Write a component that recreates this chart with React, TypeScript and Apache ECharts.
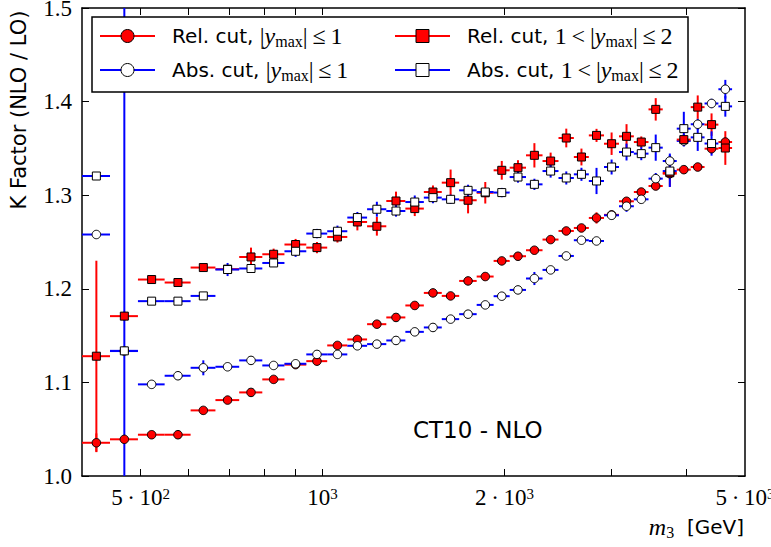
import React, { useEffect, useRef } from "react";
import * as echarts from "echarts";

// ---- data -------------------------------------------------------------
// bin edges of m3 [GeV]
const binEdges = [
  400, 445, 495, 548, 605, 665, 728, 795, 865, 940, 1018, 1099, 1185, 1275,
  1371, 1471, 1575, 1683, 1799, 1919, 2040, 2171, 2312, 2457, 2605, 2758,
  2922, 3094, 3274, 3462, 3655, 3855, 4066, 4286, 4518, 4760,
];

// Rel. cut, |y_max| <= 1  (red circles)
const relInner = [
  1.0355, 1.0392, 1.0441, 1.0441, 1.0701, 1.0811, 1.0893, 1.1032, 1.119,
  1.1227, 1.1395, 1.1459, 1.1622, 1.1694, 1.1822, 1.1956, 1.1924, 1.2084,
  1.2131, 1.2298, 1.2348, 1.2412, 1.2526, 1.2618, 1.265, 1.2757, 1.279,
  1.2935, 1.3034, 1.3098, 1.323, 1.3273, 1.3301, 1.3497, 1.3568,
];
const relInnerErr = [
  0.01, 0.004, 0.003, 0.003, 0.003, 0.003, 0.003, 0.003, 0.003, 0.003, 0.003,
  0.003, 0.003, 0.003, 0.003, 0.003, 0.003, 0.003, 0.003, 0.003, 0.003, 0.003,
  0.003, 0.004, 0.003, 0.006, 0.004, 0.004, 0.004, 0.004, 0.004, 0.004, 0.004,
  0.005, 0.005,
];

// Abs. cut, |y_max| <= 1  (open circles)
const absInner = [
  1.258, 1.1335, 1.0979, 1.1071, 1.1156, 1.1167, 1.1235, 1.1181, 1.1199,
  1.1299, 1.1299, 1.1391, 1.1409, 1.1448, 1.154, 1.1587, 1.1676, 1.1729,
  1.1828, 1.1921, 1.1988, 1.211, 1.2202, 1.2351, 1.2519, 1.2511, 1.2785,
  1.2882, 1.2956, 1.3177, 1.3365, 1.358, 1.3758, 1.398, 1.4132,
];
const absInnerErr = [
  0.004, 0.003, 0.003, 0.003, 0.008, 0.003, 0.003, 0.003, 0.003, 0.003, 0.003,
  0.003, 0.003, 0.003, 0.003, 0.003, 0.003, 0.003, 0.003, 0.003, 0.003, 0.007,
  0.003, 0.004, 0.003, 0.003, 0.004, 0.006, 0.004, 0.006, 0.008, 0.006, 0.006,
  0.005, 0.01,
];

// Rel. cut, 1 < |y_max| <= 2  (red squares)
const relOuter = [
  1.128, 1.1708, 1.2099, 1.2067, 1.2227, 1.221, 1.234, 1.2369, 1.2473, 1.244,
  1.2554, 1.2714, 1.2668, 1.2938, 1.2857, 1.3034, 1.3134, 1.2946, 1.3026,
  1.3266, 1.3294, 1.3426, 1.3365, 1.3611, 1.3408, 1.3639, 1.355, 1.3629,
  1.3568, 1.3917, 1.324, 1.3594, 1.3941, 1.3754, 1.3504,
];
const relOuterErr = [
  0.102, 0.005, 0.004, 0.004, 0.004, 0.004, 0.01, 0.006, 0.006, 0.006, 0.006,
  0.009, 0.01, 0.01, 0.008, 0.007, 0.014, 0.014, 0.0115, 0.01, 0.008, 0.013,
  0.009, 0.01, 0.009, 0.007, 0.012, 0.013, 0.006, 0.012, 0.015, 0.006, 0.0125,
  0.012, 0.018,
];

// Abs. cut, 1 < |y_max| <= 2  (open squares)
const absOuter = [
  1.3205, 1.1337, 1.1868, 1.1868, 1.1924, 1.2206, 1.2217, 1.2276, 1.2401,
  1.259, 1.2615, 1.2761, 1.285, 1.2831, 1.2927, 1.2974, 1.2956, 1.3052,
  1.3034, 1.3028, 1.3194, 1.3116, 1.3258, 1.3184, 1.3223, 1.3152, 1.3301,
  1.3461, 1.3444, 1.3508, 1.3258, 1.3711, 1.3618, 1.3552, 1.3949,
];
const absOuterErr = [
  0.004, 0.5, 0.003, 0.003, 0.003, 0.007, 0.004, 0.004, 0.006, 0.005, 0.006,
  0.006, 0.008, 0.006, 0.007, 0.006, 0.005, 0.006, 0.004, 0.005, 0.006, 0.006,
  0.007, 0.007, 0.007, 0.014, 0.008, 0.009, 0.007, 0.014, 0.017, 0.018,
  0.0145, 0.013, 0.011,
];

// axis ticks
const xMin = 400;
const xMax = 5000;
const xTickValues = [500, 600, 700, 800, 900, 1000, 2000, 3000, 4000];
const xLabelValues = [500, 1000, 2000, 5000];
const xLabelMantissas = ["5\u2009·\u200910", "10", "2\u2009·\u200910", "5\u2009·\u200910"];
const xLabelExponents = ["2", "3", "3", "3"];
const yMin = 1.0;
const yMax = 1.5;
const yStep = 0.1;

const legendEntries = [
  { pre: "Rel. cut, ", lead: "", post: "1", color: "#ff0000", fill: "#ff0000", symbol: "circle" },
  { pre: "Abs. cut, ", lead: "", post: "1", color: "#0000ff", fill: "#ffffff", symbol: "circle" },
  { pre: "Rel. cut, ", lead: "1", post: "2", color: "#ff0000", fill: "#ff0000", symbol: "rect" },
  { pre: "Abs. cut, ", lead: "1", post: "2", color: "#0000ff", fill: "#ffffff", symbol: "rect" },
];

// ---- helpers ----------------------------------------------------------
function buildRows(vals: number[], errs: number[]) {
  return vals.map((v, i) => {
    const lo = binEdges[i];
    const hi = binEdges[i + 1];
    return [(lo + hi) / 2, v, lo, hi, errs[i]];
  });
}

function barRenderer(color: string) {
  return (params: any, api: any) => {
    const x = api.value(0);
    const y = api.value(1);
    const lo = api.value(2);
    const hi = api.value(3);
    const e = api.value(4);
    const a = api.coord([lo, y]);
    const b = api.coord([hi, y]);
    const t = api.coord([x, Math.min(y + e, yMax)]);
    const u = api.coord([x, Math.max(y - e, yMin)]);
    return {
      type: "group",
      children: [
        { type: "line", shape: { x1: a[0], y1: a[1], x2: b[0], y2: b[1] }, style: { stroke: color, lineWidth: 2 } },
        { type: "line", shape: { x1: t[0], y1: t[1], x2: u[0], y2: u[1] }, style: { stroke: color, lineWidth: 2 } },
      ],
    };
  };
}

const mathRich = {
  a: { fontFamily: "DejaVu Sans", fontSize: 20, color: "#000" },
  m: { fontFamily: "Liberation Serif", fontSize: 24, color: "#000" },
  i: { fontFamily: "Liberation Serif", fontStyle: "italic", fontSize: 24, color: "#000" },
  s: { fontFamily: "Liberation Serif", fontSize: 16, color: "#000", verticalAlign: "bottom", padding: [10, 0, 0, 0] },
};

function legendText(e: any) {
  const lead = e.lead ? `{m|${e.lead}\u2009<\u2009}` : "";
  return `{a|${e.pre}}${lead}{m||}{i|y}{s|max}{m||\u2009≤\u2009${e.post}}`;
}

export default function App() {
  const ref = useRef<HTMLDivElement>(null);

  useEffect(() => {
    document.body.style.margin = "0";
    const chart = echarts.init(ref.current!, null, { renderer: "svg" });

    const sets = [
      { rows: buildRows(relInner, relInnerErr), color: "#ff0000", fill: "#ff0000", symbol: "circle", size: 8.5 },
      { rows: buildRows(absInner, absInnerErr), color: "#0000ff", fill: "#ffffff", symbol: "circle", size: 8.5 },
      { rows: buildRows(relOuter, relOuterErr), color: "#ff0000", fill: "#ff0000", symbol: "rect", size: 8 },
      { rows: buildRows(absOuter, absOuterErr), color: "#0000ff", fill: "#ffffff", symbol: "rect", size: 8 },
    ];

    const series: any[] = [];
    sets.forEach((s) => {
      series.push({
        type: "custom",
        renderItem: barRenderer(s.color),
        data: s.rows,
        encode: { x: 0, y: 1 },
        clip: true,
        silent: true,
      });
      series.push({
        type: "scatter",
        data: s.rows.map((r) => [r[0], r[1]]),
        symbol: s.symbol,
        symbolSize: s.size,
        itemStyle: { color: s.fill, borderColor: "#000", borderWidth: 1, opacity: 1 },
        silent: true,
      });
    });

    const xFormatter = (v: number) => {
      const idx = xLabelValues.findIndex((lv) => Math.abs(lv - v) / lv < 1e-6);
      if (idx < 0) return "";
      return `{b|${xLabelMantissas[idx]}}{e|${xLabelExponents[idx]}}`;
    };

    const tickLine = { color: "#000", width: 1 };
    const axisLine = { show: true, onZero: false, lineStyle: { color: "#000", width: 1.5 } };

    const legendGraphics: any[] = [
      {
        type: "rect",
        shape: { x: 92, y: 17, width: 596, height: 75 },
        style: { fill: "#fff", stroke: "#000", lineWidth: 1.5 },
        z: 100,
      },
    ];
    const colX = [100, 395];
    const textX = [172, 467];
    const rowY = [36, 70];
    legendEntries.forEach((e, k) => {
      const col = Math.floor(k / 2);
      const row = k % 2;
      const x0 = colX[col];
      const y0 = rowY[row];
      legendGraphics.push({
        type: "line",
        shape: { x1: x0, y1: y0, x2: x0 + 55, y2: y0 },
        style: { stroke: e.color, lineWidth: 2 },
        z: 101,
      });
      if (e.symbol === "circle") {
        legendGraphics.push({
          type: "circle",
          shape: { cx: x0 + 27.5, cy: y0, r: 6.5 },
          style: { fill: e.fill, stroke: "#000", lineWidth: 1 },
          z: 102,
        });
      } else {
        legendGraphics.push({
          type: "rect",
          shape: { x: x0 + 21, y: y0 - 6.5, width: 13, height: 13 },
          style: { fill: e.fill, stroke: "#000", lineWidth: 1 },
          z: 102,
        });
      }
      legendGraphics.push({
        type: "text",
        x: textX[col],
        y: y0,
        style: { text: legendText(e), rich: mathRich, verticalAlign: "middle", textAlign: "left" },
        z: 102,
      });
    });

    const option: any = {
      animation: false,
      backgroundColor: "#fff",
      grid: { left: 82, right: 26, top: 8, bottom: 71, containLabel: false, outerBoundsMode: "none" },
      xAxis: [
        {
          type: "log",
          logBase: 10,
          min: xMin,
          max: xMax,
          position: "bottom",
          axisLine,
          axisTick: { show: true, inside: true, length: 7, customValues: xTickValues, lineStyle: tickLine },
          axisLabel: {
            show: true,
            customValues: xLabelValues,
            formatter: xFormatter,
            margin: 10,
            rich: {
              b: { fontFamily: "Liberation Serif", fontSize: 23, color: "#000" },
              e: { fontFamily: "Liberation Serif", fontSize: 15, color: "#000", verticalAlign: "top", padding: [0, 0, 8, 0] },
            },
          },
          splitLine: { show: false },
          minorTick: { show: false },
        },
        {
          type: "log",
          logBase: 10,
          min: xMin,
          max: xMax,
          position: "top",
          axisLine,
          axisTick: { show: true, inside: true, length: 7, customValues: xTickValues, lineStyle: tickLine },
          axisLabel: { show: false },
          splitLine: { show: false },
        },
      ],
      yAxis: [
        {
          type: "value",
          min: yMin,
          max: yMax,
          interval: yStep,
          position: "left",
          axisLine,
          axisTick: { show: true, inside: true, length: 7, lineStyle: tickLine },
          axisLabel: {
            formatter: (v: number) => v.toFixed(1),
            fontFamily: "Liberation Serif",
            fontSize: 23,
            color: "#000",
            margin: 10,
          },
          splitLine: { show: false },
        },
        {
          type: "value",
          min: yMin,
          max: yMax,
          interval: yStep,
          position: "right",
          axisLine,
          axisTick: { show: true, inside: true, length: 7, lineStyle: tickLine },
          axisLabel: { show: false },
          splitLine: { show: false },
        },
      ],
      series,
      graphic: [
        ...legendGraphics,
        {
          type: "text",
          x: 19,
          y: 110,
          rotation: Math.PI / 2,
          style: {
            text: "K Factor (NLO / LO)",
            fontFamily: "DejaVu Sans",
            fontSize: 21,
            fill: "#000",
            textAlign: "center",
            verticalAlign: "middle",
          },
        },
        {
          type: "text",
          x: 413,
          y: 430,
          style: {
            text: "CT10 - NLO",
            fontFamily: "DejaVu Sans",
            fontSize: 23,
            fill: "#000",
            textAlign: "left",
            verticalAlign: "middle",
          },
        },
        {
          type: "text",
          x: 744,
          y: 527,
          style: {
            text: "{i|m}{s|3}{a|  [GeV]}",
            rich: mathRich,
            textAlign: "right",
            verticalAlign: "middle",
          },
        },
      ],
    };

    chart.setOption(option);
    return () => chart.dispose();
  }, []);

  return (
    <div
      ref={ref}
      style={{ position: "absolute", left: 0, top: 0, width: 771, height: 547 }}
    />
  );
}
